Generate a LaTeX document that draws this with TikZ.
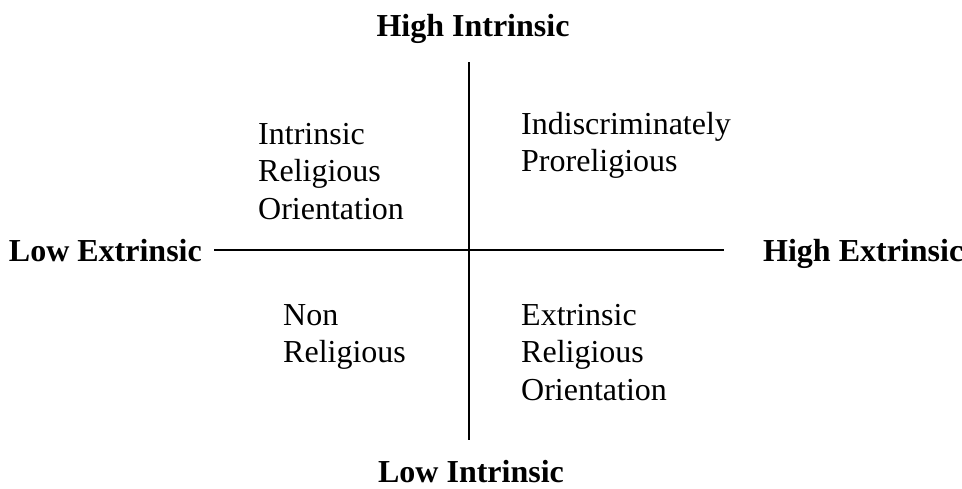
\documentclass[tikz,border=0pt]{standalone}
\usepackage{fontspec}
\setmainfont{Liberation Serif}
\begin{document}
\begin{tikzpicture}[x=1pt, y=-1pt,
    axislabel/.style={font=\fontsize{32}{37}\selectfont\bfseries, inner sep=0pt},
    quadtext/.style={font=\fontsize{32}{37.5}\selectfont, align=left, anchor=north west, inner sep=0pt},
    axisline/.style={line width=2pt}]
  \useasboundingbox (0,0) rectangle (962,488);

  % axes
  \coordinate (top) at (469,62);
  \coordinate (bottom) at (469,440);
  \coordinate (left) at (214,250);
  \coordinate (right) at (724,250);
  \draw[axisline] (top) -- (bottom);
  \draw[axisline] (left) -- (right);

  % axis labels
  \node[axislabel, anchor=base] (highint) at (473,36) {High Intrinsic};
  \node[axislabel, anchor=base] (lowint) at (471,482) {Low Intrinsic};
  \node[axislabel, anchor=base east] (lowext) at (202,261) {Low Extrinsic};
  \node[axislabel, anchor=base west] (highext) at (763,261) {High Extrinsic};

  % quadrants
  \node[quadtext] (intrinsic) at (258,123) {Intrinsic\\Religious\\Orientation};
  \node[quadtext] (prorel) at (521,112) {Indiscriminately\\Proreligious};
  \node[quadtext] (nonrel) at (283,304) {Non\\Religious};
  \node[quadtext] (extrinsic) at (521,304) {Extrinsic\\Religious\\Orientation};
\end{tikzpicture}
\end{document}
